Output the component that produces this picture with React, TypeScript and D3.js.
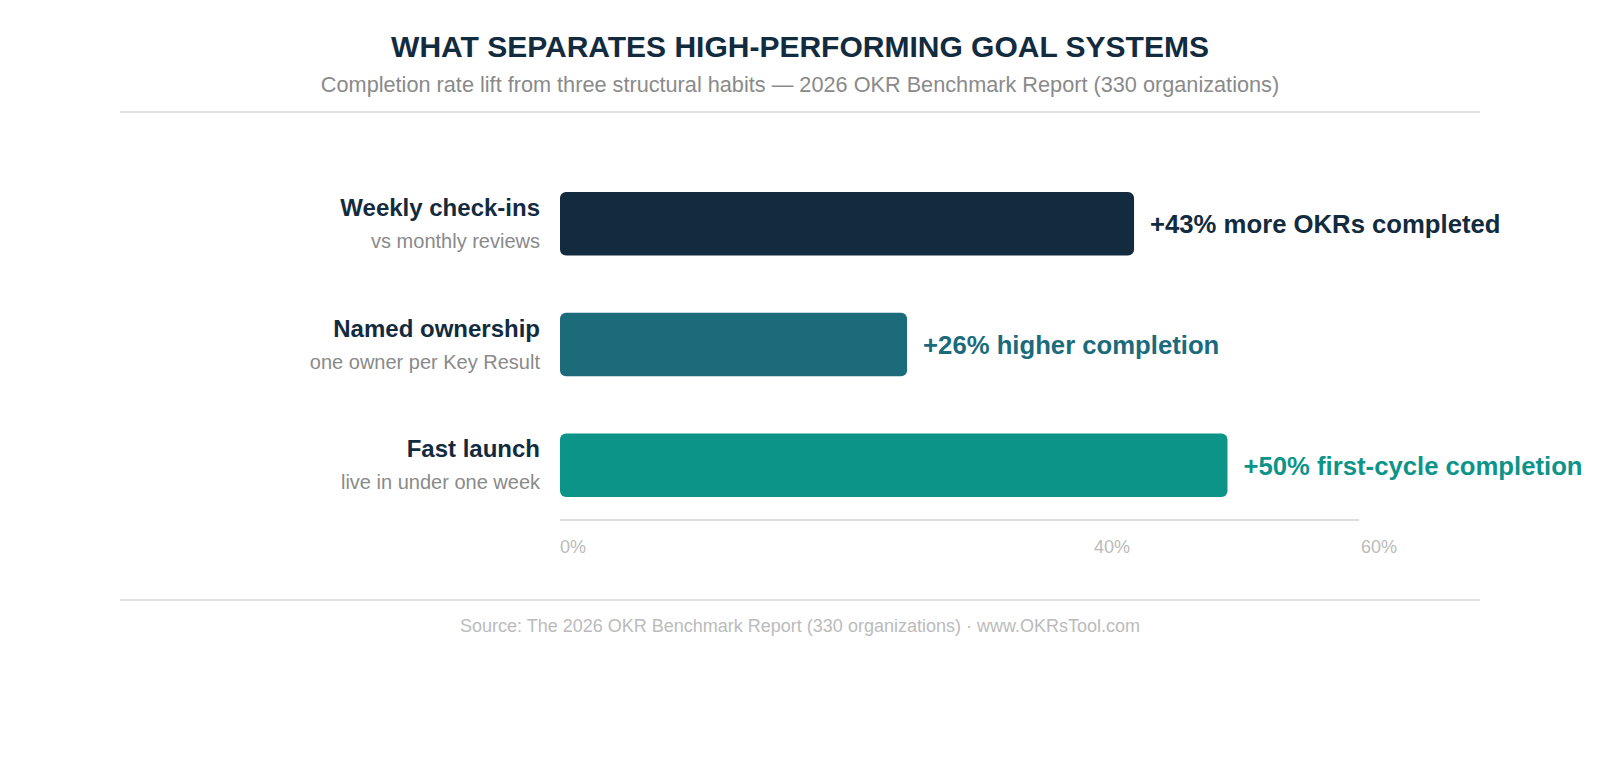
import React from "react";
import * as d3 from "d3";

const categories = ["Weekly check-ins", "Named ownership", "Fast launch"];
const subLabels = ["vs monthly reviews", "one owner per Key Result", "live in under one week"];
const values = [43, 26, 50];
const valueLabels = ["+43% more OKRs completed", "+26% higher completion", "+50% first-cycle completion"];
const barColors = ["#122b3e", "#1b6b7b", "#0d9488"];
const tickValues = [0, 40, 60];

const W = 1600;
const H = 760;
const FONT = "'Liberation Sans', Arial, Helvetica, sans-serif";

export default function App() {
  const x = d3.scaleLinear().domain([0, 60]).range([560, 1361]);
  const y = d3.scaleBand<string>().domain(categories).range([192, 497]).paddingInner(0.475).paddingOuter(0);
  const bw = y.bandwidth();

  return (
    <div style={{ position: "absolute", left: 0, top: 0 }}>
      <svg width={W} height={H} style={{ display: "block", fontFamily: FONT }}>
        <rect width={W} height={H} fill="#ffffff" />
        <text x={800} y={57} textAnchor="middle" fontSize={30} fontWeight="bold" fill="#122b3e">
          WHAT SEPARATES HIGH-PERFORMING GOAL SYSTEMS
        </text>
        <text x={800} y={92} textAnchor="middle" fontSize={21.7} fill="#8a8a8a">
          Completion rate lift from three structural habits — 2026 OKR Benchmark Report (330 organizations)
        </text>
        <line x1={120} x2={1480} y1={112} y2={112} stroke="#e0e0e0" strokeWidth={2} />

        {categories.map((c, i) => {
          const y0 = y(c)!;
          const cy = y0 + bw / 2;
          return (
            <g key={c}>
              <text x={540} y={cy - 8} textAnchor="end" fontSize={24} fontWeight="bold" fill="#122b3e">
                {c}
              </text>
              <text x={540} y={cy + 24} textAnchor="end" fontSize={20} fill="#8a8a8a">
                {subLabels[i]}
              </text>
              <rect x={x(0)} y={y0} width={x(values[i]) - x(0)} height={bw} rx={6} fill={barColors[i]} />
              <text x={x(values[i]) + 16} y={cy + 9.5} fontSize={25.7} fontWeight="bold" fill={barColors[i]}>
                {valueLabels[i]}
              </text>
            </g>
          );
        })}

        <line x1={x(0)} x2={x(60) - 2} y1={520} y2={520} stroke="#dddddd" strokeWidth={2} />
        {tickValues.map((t) => (
          <text key={t} x={x(t)} y={553} fontSize={18} fill="#bbbbbb">
            {`${t}%`}
          </text>
        ))}

        <line x1={120} x2={1480} y1={600} y2={600} stroke="#e0e0e0" strokeWidth={2} />
        <text x={800} y={632} textAnchor="middle" fontSize={18} fill="#bbbbbb">
          Source: The 2026 OKR Benchmark Report (330 organizations) · www.OKRsTool.com
        </text>
      </svg>
    </div>
  );
}
